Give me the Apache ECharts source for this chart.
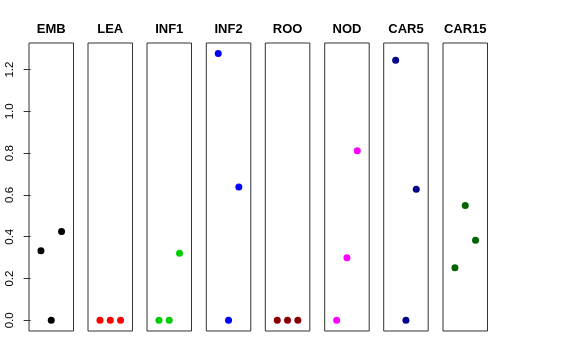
<!DOCTYPE html>
<html><head><meta charset="utf-8">
<script src="https://cdn.jsdelivr.net/npm/echarts@6/dist/echarts.min.js"></script>
<style>html,body{margin:0;padding:0;background:#fff}#c{width:576px;height:360px}</style>
</head><body><div id="c"></div>
<script>
const panels = ['EMB','LEA','INF1','INF2','ROO','NOD','CAR5','CAR15'];
const colors = ['#000000','#FF0000','#00CD00','#0000FF','#8B0000','#FF00FF','#00008B','#006400'];
const xPositions = [1, 2, 3];
const EMB = [0.333, 0, 0.425];
const LEA = [0, 0, 0];
const INF1 = [0, 0, 0.321];
const INF2 = [1.277, 0, 0.638];
const ROO = [0, 0, 0];
const NOD = [0, 0.299, 0.812];
const CAR5 = [1.245, 0, 0.627];
const CAR15 = [0.252, 0.549, 0.383];
const values = [EMB, LEA, INF1, INF2, ROO, NOD, CAR5, CAR15];
const yTicks = [0, 0.2, 0.4, 0.6, 0.8, 1.0, 1.2];

const gridLefts = [29, 88, 147, 206.3, 265.3, 324.7, 383.7, 443];
const gridW = 44.5, gridTop = 43, gridH = 288;
const yMin = -0.051, yMax = 1.327;

const grid = [], xAxis = [], yAxis = [], series = [], graphic = [];
panels.forEach((p, i) => {
  grid.push({left: gridLefts[i], top: gridTop, width: gridW, height: gridH, show: true,
    borderColor: '#333', borderWidth: 1, backgroundColor: 'transparent'});
  xAxis.push({type: 'value', gridIndex: i, min: -0.16, max: 4.16, show: false});
  const first = i === 0;
  yAxis.push({type: 'value', gridIndex: i, min: yMin, max: yMax, show: first,
    axisLine: {show: false},
    splitLine: {show: false},
    axisTick: {show: first, inside: false, length: 7, customValues: yTicks,
      lineStyle: {color: '#333', width: 1}},
    axisLabel: {show: first, customValues: yTicks, rotate: 90, margin: 13,
      fontFamily: 'Liberation Sans, Arial, sans-serif', fontSize: 11.5, color: '#000',
      formatter: v => v.toFixed(1)}
  });
  graphic.push({type: 'text', x: gridLefts[i] + gridW / 2, y: 29.5,
    style: {text: p, textAlign: 'center', textVerticalAlign: 'middle',
      font: 'bold 13px "Liberation Sans", Arial, sans-serif', fill: '#000'}});
  series.push({type: 'scatter', xAxisIndex: i, yAxisIndex: i, symbol: 'circle', symbolSize: 7,
    itemStyle: {color: colors[i], opacity: 1}, silent: true, animation: false,
    data: xPositions.map((x, j) => [x, values[i][j]])});
});

const chart = echarts.init(document.getElementById('c'), null, {renderer: 'canvas'});
chart.setOption({animation: false, graphic, grid, xAxis, yAxis, series});
</script></body></html>
